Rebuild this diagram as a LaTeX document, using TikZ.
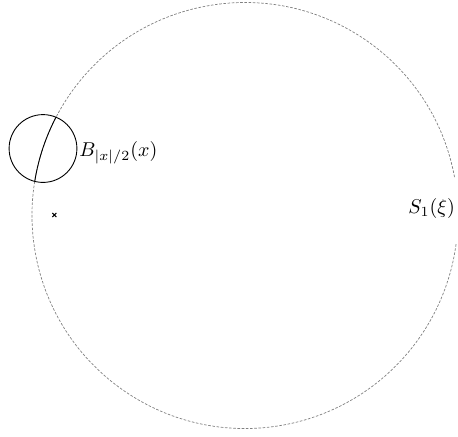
\documentclass[tikz,border=0pt]{standalone}
\usetikzlibrary{calc}
\tikzset{
  spheredash/.style={draw=gray, line width=0.35pt, dash pattern=on 1.3pt off 0.8pt},
  ballline/.style={draw=black, line width=0.45pt},
  lbl/.style={inner sep=0pt, anchor=base west},
  crossmark/.style={draw=black, line width=0.55pt}
}
\begin{document}
\begin{tikzpicture}[x=0.5pt, y=-0.5pt]
  \useasboundingbox (0,0) rectangle (458,436);
  \coordinate (xi) at (245,215.5);
  \coordinate (O) at (54.3,215);
  \coordinate (x) at (43,148.5);
  % dashed sphere S_1(xi), interrupted behind its label
  \draw[spheredash] ([shift={(10.4:106.5pt)}]xi) arc[start angle=10.4, end angle=352.6, radius=106.5pt];
  % solid part of the sphere inside the ball
  \begin{scope}
    \clip (x) circle[radius=16.95pt];
    \draw[ballline] (xi) circle[radius=106.5pt];
  \end{scope}
  % the ball
  \draw[ballline] (x) circle[radius=16.95pt];
  % origin cross
  \draw[crossmark] (O) +(-2,-2) -- +(2,2) (O) +(-2,2) -- +(2,-2);
  % labels
  \node[lbl] (Blabel) at (79,156.5) {$B_{|x|/2}(x)$};
  \node[lbl] (Slabel) at (408,213.5) {$S_1(\xi)$};
\end{tikzpicture}
\end{document}
